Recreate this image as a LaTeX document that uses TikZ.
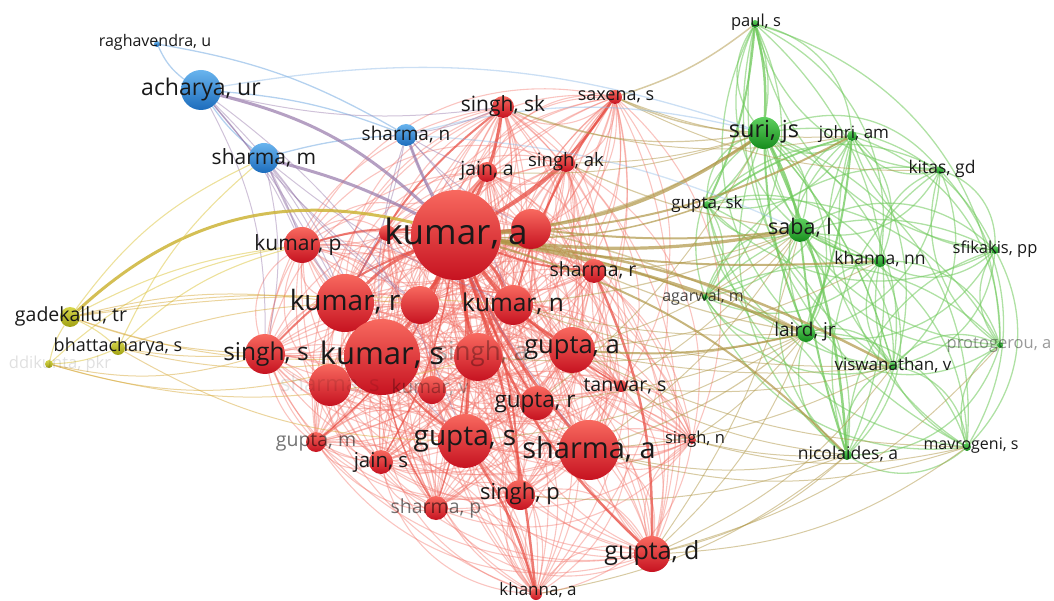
\documentclass[tikz,border=0pt]{standalone}
\usepackage{fontspec}
\setmainfont{Open Sans}
\pgfdeclarelayer{bg}\pgfdeclarelayer{fg}
\pgfsetlayers{bg,main,fg}
\definecolor{rT}{RGB}{248,105,95}
\definecolor{rB}{RGB}{198,18,32}
\definecolor{bT}{RGB}{105,180,238}
\definecolor{bB}{RGB}{28,108,188}
\definecolor{gT}{RGB}{95,208,95}
\definecolor{gB}{RGB}{22,140,28}
\definecolor{yT}{RGB}{215,215,75}
\definecolor{yB}{RGB}{160,160,18}
\definecolor{eR}{RGB}{242,115,105}
\definecolor{eRk}{RGB}{232,80,70}
\definecolor{eG}{RGB}{110,200,90}
\definecolor{eB}{RGB}{140,185,230}
\definecolor{eY}{RGB}{225,205,90}
\definecolor{eRG}{RGB}{175,150,70}
\definecolor{eBR}{RGB}{150,120,170}
\definecolor{eYR}{RGB}{215,170,60}
\newcommand\fs[1]{\fontsize{#1}{#1}\selectfont}
\tikzset{
  vr/.style={circle,inner sep=0pt,draw=none,top color=rT,bottom color=rB,minimum size=#1},
  vb/.style={circle,inner sep=0pt,draw=none,top color=bT,bottom color=bB,minimum size=#1},
  vg/.style={circle,inner sep=0pt,draw=none,top color=gT,bottom color=gB,minimum size=#1},
  vy/.style={circle,inner sep=0pt,draw=none,top color=yT,bottom color=yB,minimum size=#1},
  lab/.style={inner sep=0pt,text={rgb,255:red,25;green,25;blue,25}},
  fade/.style={inner sep=0pt,text=black,text opacity=#1},
  edgeR/.style={draw=eR,line width=1.1pt,opacity=0.42},
  edgeRk/.style={draw=eRk,opacity=0.75},
  edgeG/.style={draw=eG,line width=1.3pt,opacity=0.55},
  edgeB/.style={draw=eB,line width=1.3pt,opacity=0.65},
  edgeY/.style={draw=eY,line width=1.1pt,opacity=0.6},
  edgeRG/.style={draw=eRG,line width=1pt,opacity=0.5},
  edgeBR/.style={draw=eBR,line width=1pt,opacity=0.45},
  edgeYR/.style={draw=eYR,line width=1pt,opacity=0.5},
}
\begin{document}
\begin{tikzpicture}[x=1pt,y=-1pt]
\useasboundingbox (0,0) rectangle (1054,601);
% ---------- nodes ----------
% blue
\node[vb=6pt] (rag) at (157,44) {};
\node[vb=40pt] (ach) at (201,90) {};
\node[vb=30pt] (shm) at (264,158) {};
\node[vb=22pt] (shn) at (406,135) {};
% yellow
\node[vy=20pt] (gad) at (70,317) {};
\node[vy=14pt] (bha) at (118,348) {};
\node[vy=8pt] (ddi) at (49,364) {};
% red
\node[vr=16pt] (lx) at (387,233) {};
\node[vr=40pt] (rx) at (531,229) {};
\node[vr=22pt] (ssk) at (503,107) {};
\node[vr=14pt] (sax) at (615,97) {};
\node[vr=20pt] (ja) at (487,172) {};
\node[vr=18pt] (sak) at (566,163) {};
\node[vr=36pt] (kp) at (302,245) {};
\node[vr=24pt] (shr) at (594,271) {};
\node[vr=40pt] (kn) at (513,305) {};
\node[vr=38pt] (rm) at (420,305) {};
\node[vr=58pt] (kr) at (345,303) {};
\node[vr=40pt] (ss) at (265,354) {};
\node[vr=42pt] (shs) at (330,385) {};
\node[vr=48pt] (sa) at (478,357) {};
\node[vr=46pt] (ga) at (572,350) {};
\node[vr=28pt] (kv) at (432,390) {};
\node[vr=76pt] (ks) at (382,357) {};
\node[vr=12pt] (tan) at (621,386) {};
\node[vr=34pt] (gr) at (537,403) {};
\node[vr=20pt] (gm) at (316,442) {};
\node[vr=24pt] (js) at (381,462) {};
\node[vr=54pt] (gs) at (465,441) {};
\node[vr=60pt] (sha) at (589,450) {};
\node[vr=8pt] (sn) at (692,440) {};
\node[vr=30pt] (sp) at (520,495) {};
\node[vr=24pt] (shp) at (436,508) {};
\node[vr=36pt] (gd) at (652,554) {};
\node[vr=12pt] (kha) at (536,594) {};
\node[vr=90pt] (ka) at (456,235) {};
% green
\node[vg=8pt] (pau) at (755,24) {};
\node[vg=32pt] (sur) at (764,133) {};
\node[vg=10pt] (joh) at (852,136) {};
\node[vg=8pt] (kit) at (940,170) {};
\node[vg=8pt] (gsk) at (707,205) {};
\node[vg=24pt] (sab) at (800,230) {};
\node[vg=12pt] (khn) at (880,261) {};
\node[vg=8pt] (sfi) at (995,250) {};
\node[vg=6pt] (aga) at (705,297) {};
\node[vg=18pt] (lai) at (806,333) {};
\node[vg=6pt] (pro) at (1000,345) {};
\node[vg=8pt] (vis) at (893,366) {};
\node[vg=10pt] (nic) at (847,455) {};
\node[vg=8pt] (mav) at (967,447) {};
% ---------- edges ----------
\begin{pgfonlayer}{bg}
\def\redlist{ka,rx,lx,ssk,sax,ja,sak,kp,kr,rm,kn,shr,ss,ks,sa,ga,shs,kv,tan,gr,gm,js,gs,sha,sn,sp,shp,gd,kha}
\foreach \a [count=\i] in \redlist {
  \foreach \b [count=\j] in \redlist {
    \ifnum\j>\i
      \pgfmathtruncatemacro\pr{mod(\i+\j,2)}
      \ifnum\pr=0 \draw[edgeR] (\a) to[bend left=36] (\b);
      \else \draw[edgeR] (\a) to[bend right=36] (\b); \fi
    \fi
  }
}
\def\greenlist{pau,sur,joh,kit,gsk,sab,khn,sfi,aga,lai,pro,vis,nic,mav}
\foreach \a [count=\i] in \greenlist {
  \foreach \b [count=\j] in \greenlist {
    \ifnum\j>\i
      \pgfmathtruncatemacro\pr{mod(\i+\j,2)}
      \ifnum\pr=0 \draw[edgeG] (\a) to[bend left=36] (\b);
      \else \draw[edgeG] (\a) to[bend right=36] (\b); \fi
    \fi
  }
}
% thicker red edges
\foreach \b/\w/\bd in {ks/4/8,kr/3/-10,kn/3/10,gs/3/6,sha/3/-8,ga/3/-10,ssk/3/-8,sax/2.5/-12,ja/2/5,sak/2/-6,kp/2/-10,ss/2/-12,gd/2.5/-14,sp/2/10,kha/2.5/6,gr/2/-6,shr/2/-8,rx/3/0,rm/3/5,sa/3/-5,js/1.5/10,shp/1.5/12,gm/1.5/14,tan/1.5/-10}
  \draw[edgeRk,line width=\w pt] (ka) to[bend left=\bd] (\b);
\draw[edgeRk,line width=2.5pt] (gs) to[bend left=8] (kha);
\draw[edgeRk,line width=2.5pt] (shr) to[bend left=12] (gd);
\draw[edgeRk,line width=2pt] (ks) to[bend right=8] (gs);
\draw[edgeRk,line width=2pt] (ks) to[bend left=8] (kr);
\draw[edgeRk,line width=2pt] (ssk) to[bend right=12] (kr);
\draw[edgeRk,line width=2pt] (sax) to[bend right=10] (kn);
\draw[edgeRk,line width=1.5pt] (ks) to[bend right=10] (shp);
% thicker green edges
\foreach \a/\b/\w/\bd in {sur/pau/2.5/-8,sur/sab/2/8,sur/nic/2.5/10,sab/nic/2/-6,sur/lai/2/-10,sab/khn/1.5/-8,joh/lai/2/8,pau/gsk/2/10,joh/gsk/1.8/-10,sur/vis/1.5/12}
  \draw[edgeG,opacity=0.75,line width=\w pt] (\a) to[bend left=\bd] (\b);
% red-green
\foreach \a/\b/\w/\bd in {ka/sur/3.2/-14,ka/sab/3.2/-8,ka/lai/3/6,ka/vis/2.5/10,ka/nic/2/14,ka/joh/2/-12,ka/khn/2/-6,rx/sab/2/-6,ga/lai/2/-8,ka/gsk/1.5/-10,ka/aga/1.5/6}
  \draw[edgeRG,opacity=0.7,line width=\w pt] (\a) to[bend left=\bd] (\b);
\foreach \a/\b/\w/\bd in {sax/sur/1.5/-10,sax/pau/1.5/-10,ssk/sur/1.2/-14,sak/sab/1.2/-8,shr/lai/1.2/-6,kn/sab/1.2/-8,sha/lai/1.2/-10,sha/nic/1/-12,gd/nic/1/-14,gd/mav/1/-16,gd/sab/1/-10,gd/vis/1/-14,gd/lai/1/-12,sn/nic/1/-8,sn/lai/1/-8,tan/sab/1/-8,tan/vis/1/-10,gr/sur/1/-10,ga/vis/1/-8,ga/sab/1/-10,ga/mav/1/-12,sha/vis/1/-10,sha/sab/1/-10,sa/lai/1/-8,ja/sur/1/-10,rx/sur/1.5/-10,rx/lai/1.5/6,kha/nic/1/-14,sp/nic/1/-12,gs/lai/1/-12,sax/joh/1/-12,sak/sur/1/-8,shr/sab/1/-8,kn/lai/1/-8,ga/khn/1/-10,sax/kit/1/-14,ssk/joh/1/-14,gd/pro/1/-16,sha/mav/1/-16,sn/mav/1/-14,tan/nic/1/-10,gr/lai/1/-8,kn/vis/1/-10}
  \draw[edgeRG,line width=\w pt] (\a) to[bend left=\bd] (\b);
% blue
\draw[edgeB] (rag) to[bend right=14] (ach);
\draw[edgeB] (rag) to[bend left=10] (shn);
\draw[edgeB] (ach) to[bend right=8] (shm);
\draw[edgeB] (ach) to[bend left=8] (shn);
\draw[edgeB] (shm) to[bend left=6] (shn);
\draw[edgeB,opacity=0.45] (ach) to[bend left=14] (sur);
\draw[edgeB,opacity=0.45] (shn) to[bend left=14] (sur);
\draw[edgeB,opacity=0.4] (shn) to[bend left=10] (sab);
\draw[edgeBR,opacity=0.7,line width=3pt] (ach) to[bend left=14] (ka);
\draw[edgeBR,opacity=0.7,line width=3pt] (shm) to[bend left=6] (ka);
\draw[edgeBR,opacity=0.65,line width=3pt] (shn) to[bend right=4] (ka);
\foreach \a/\b/\bd in {ach/kp/8,ach/ss/14,ach/ks/10,ach/kr/6,ach/rm/-6,shm/kp/4,shm/kr/6,shm/ss/12,shm/ks/-6,shm/rm/-8,shn/ssk/-6,shn/ja/-6,shn/kn/10,shn/kr/8,shn/ks/-10,ach/gs/16,shm/gs/-10,shn/rx/-10,ach/ssk/-10,shm/kn/-8,shn/sha/-8}
  \draw[edgeBR] (\a) to[bend left=\bd] (\b);
% yellow
\draw[edgeYR,opacity=0.85,line width=3pt,draw={rgb,255:red,205;green,180;blue,55}] (gad) to[bend left=28] (ka);
\foreach \a/\b/\bd in {gad/bha/8,gad/ddi/-10,bha/ddi/10,gad/shm/14,bha/shm/12,gad/kp/10,bha/kp/14,ddi/kp/16}
  \draw[edgeY] (\a) to[bend left=\bd] (\b);
\foreach \a/\b/\bd in {gad/ss/-8,gad/ks/-10,gad/kr/10,bha/ss/-6,bha/ks/-10,bha/kr/8,ddi/ss/-14,ddi/ks/-16,gad/rm/8,bha/gs/-14,ddi/sa/-16,gad/kn/6}
  \draw[edgeYR] (\a) to[bend left=\bd] (\b);
\end{pgfonlayer}
% ---------- labels ----------
\begin{pgfonlayer}{fg}
\node[lab,font=\fs{16}] at (155,42) {raghavendra, u};
\node[lab,font=\fs{23}] at (201,90) {acharya, ur};
\node[lab,font=\fs{21}] at (264,158) {sharma, m};
\node[lab,font=\fs{19}] at (406,135) {sharma, n};
\node[lab,font=\fs{19.5}] at (71,316) {gadekallu, tr};
\node[lab,font=\fs{18}] at (118,347) {bhattacharya, s};
\node[fade=0.12,font=\fs{16.5}] at (60,364) {ddikunta, pkr};
\node[lab,font=\fs{21}] at (503,106) {singh, sk};
\node[lab,font=\fs{18}] at (616,97) {saxena, s};
\node[lab,font=\fs{19.5}] at (487,171) {jain, a};
\node[lab,font=\fs{18.5}] at (566,162) {singh, ak};
\node[lab,font=\fs{21}] at (298,245) {kumar, p};
\node[lab,font=\fs{19.5}] at (593,270) {sharma, r};
\node[lab,font=\fs{24.5}] at (513,304) {kumar, n};
\node[lab,font=\fs{28}] at (345,302) {kumar, r};
\node[fade=0.1,font=\fs{22}] at (330,385) {sharma, s};
\node[fade=0.3,font=\fs{26}] at (482,354) {singh, a};
\node[fade=0.3,font=\fs{19}] at (430,388) {kumar, v};
\node[lab,font=\fs{24.5}] at (266,354) {singh, s};
\node[lab,font=\fs{31}] at (382,355) {kumar, s};
\node[lab,font=\fs{25.5}] at (572,348) {gupta, a};
\node[lab,font=\fs{19.5}] at (625,386) {tanwar, s};
\node[lab,font=\fs{22.5}] at (535,403) {gupta, r};
\node[fade=0.55,font=\fs{19.5}] at (316,442) {gupta, m};
\node[lab,font=\fs{20.5}] at (381,462) {jain, s};
\node[lab,font=\fs{28}] at (465,440) {gupta, s};
\node[lab,font=\fs{29}] at (589,449) {sharma, a};
\node[lab,font=\fs{16.5}] at (695,439) {singh, n};
\node[lab,font=\fs{22}] at (520,494) {singh, p};
\node[fade=0.55,font=\fs{19.5}] at (436,508) {sharma, p};
\node[lab,font=\fs{25}] at (652,553) {gupta, d};
\node[lab,font=\fs{17}] at (538,590) {khanna, a};
\node[lab,font=\fs{35}] at (456,233) {kumar, a};
\node[lab,font=\fs{16.5}] at (756,22) {paul, s};
\node[lab,font=\fs{23.5}] at (764,132) {suri, js};
\node[lab,font=\fs{17}] at (854,134) {johri, am};
\node[lab,font=\fs{17.5}] at (942,169) {kitas, gd};
\node[lab,font=\fs{17}] at (707,204) {gupta, sk};
\node[lab,font=\fs{21.5}] at (800,228) {saba, l};
\node[lab,font=\fs{17.5}] at (880,259) {khanna, nn};
\node[lab,font=\fs{16.5}] at (995,249) {sfikakis, pp};
\node[fade=0.7,font=\fs{16}] at (703,297) {agarwal, m};
\node[lab,font=\fs{19}] at (805,332) {laird, jr};
\node[fade=0.4,font=\fs{16.5}] at (999,345) {protogerou, a};
\node[lab,font=\fs{17}] at (893,365) {viswanathan, v};
\node[lab,font=\fs{17.5}] at (848,454) {nicolaides, a};
\node[lab,font=\fs{16}] at (971,446) {mavrogeni, s};
\end{pgfonlayer}
\end{tikzpicture}
\end{document}
